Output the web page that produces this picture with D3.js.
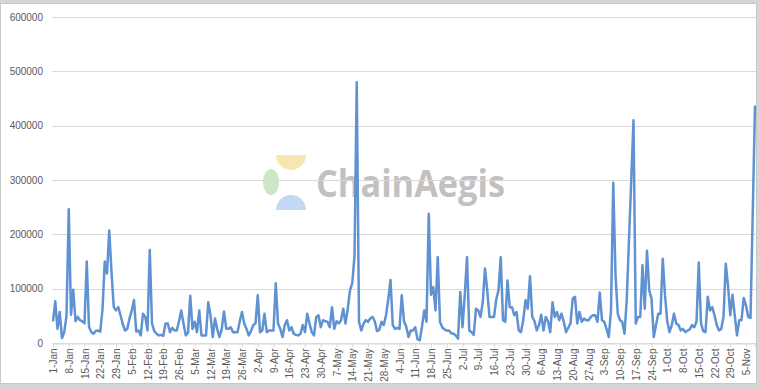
<!DOCTYPE html>
<html>
<head>
<meta charset="utf-8">
<script src="https://cdn.jsdelivr.net/npm/d3@7/dist/d3.min.js"></script>
<style>
    html, body { margin: 0; padding: 0; background: #d6d6d6; }
    svg { display: block; font-family: "Liberation Sans", Arial, sans-serif; }
</style>
</head>
<body>
<div id="chart"></div>
<script>
const width = 760;
const height = 390;

// 日ごとの値 (1-Jan から)
const startDate = new Date(2018, 0, 1);
const values = [
    40000, 77000, 26000, 57000, 9000, 20000, 50000, 246000, 52000, 98000,
    40000, 48000, 42000, 40000, 36000, 150000, 30000, 20000, 17000, 22000,
    23000, 21000, 62000, 150000, 128000, 207000, 131000, 66000, 60000, 66000,
    51000, 35000, 23000, 26000, 45000, 60000, 79000, 21000, 23000, 14000,
    54000, 48000, 23000, 171000, 36000, 22000, 17000, 14000, 15000, 13000,
    36000, 36000, 20000, 28000, 23000, 23000, 40000, 60000, 36000, 14000,
    19000, 87000, 26000, 39000, 20000, 60000, 14000, 14000, 14000, 75000,
    51000, 11000, 45000, 25000, 11000, 26000, 58000, 26000, 26000, 29000,
    20000, 20000, 20000, 40000, 57000, 36000, 26000, 14000, 22000, 33000,
    36000, 88000, 20000, 23000, 54000, 20000, 23000, 23000, 23000, 110000,
    36000, 26000, 11000, 33000, 42000, 23000, 29000, 17000, 15000, 14000,
    17000, 33000, 20000, 54000, 36000, 20000, 14000, 48000, 51000, 29000,
    42000, 40000, 39000, 29000, 66000, 26000, 40000, 36000, 42000, 63000,
    36000, 63000, 97000, 110000, 160000, 480000, 39000, 23000, 35000, 42000,
    39000, 45000, 48000, 40000, 22000, 24000, 39000, 33000, 51000, 80000,
    116000, 33000, 26000, 28000, 26000, 88000, 40000, 30000, 11000, 23000,
    23000, 29000, 7000, 5000, 30000, 60000, 39000, 238000, 89000, 103000,
    60000, 158000, 39000, 29000, 25000, 23000, 23000, 18000, 17000, 14000,
    8000, 94000, 29000, 88000, 158000, 23000, 20000, 15000, 63000, 60000,
    48000, 75000, 137000, 97000, 48000, 48000, 48000, 80000, 97000, 158000,
    42000, 39000, 115000, 66000, 66000, 51000, 57000, 23000, 20000, 42000,
    79000, 63000, 123000, 48000, 40000, 23000, 33000, 52000, 23000, 48000,
    40000, 20000, 75000, 48000, 57000, 42000, 54000, 39000, 20000, 28000,
    36000, 82000, 85000, 36000, 57000, 39000, 45000, 42000, 42000, 48000,
    51000, 51000, 39000, 93000, 42000, 39000, 26000, 11000, 60000, 295000,
    125000, 54000, 42000, 39000, 17000, 80000, 190000, 300000, 410000, 36000,
    48000, 48000, 143000, 63000, 170000, 97000, 82000, 11000, 33000, 54000,
    54000, 155000, 88000, 40000, 20000, 33000, 54000, 36000, 33000, 23000,
    26000, 20000, 23000, 25000, 33000, 29000, 39000, 148000, 36000, 22000,
    20000, 85000, 60000, 66000, 51000, 33000, 23000, 26000, 48000, 146000,
    106000, 51000, 89000, 51000, 14000, 42000, 42000, 83000, 69000, 48000,
    46000, 240000, 437000
];

// Y軸の目盛り
const yTicks = [0, 100000, 200000, 300000, 400000, 500000, 600000];

// X軸のラベル (7日ごと)
const tickLabels = [
    "1-Jan", "8-Jan", "15-Jan", "22-Jan", "29-Jan", "5-Feb", "12-Feb", "19-Feb",
    "26-Feb", "5-Mar", "12-Mar", "19-Mar", "26-Mar", "2-Apr", "9-Apr", "16-Apr",
    "23-Apr", "30-Apr", "7-May", "14-May", "21-May", "28-May", "4-Jun", "11-Jun",
    "18-Jun", "25-Jun", "2-Jul", "9-Jul", "16-Jul", "23-Jul", "30-Jul", "6-Aug",
    "13-Aug", "20-Aug", "27-Aug", "3-Sep", "10-Sep", "17-Sep", "24-Sep", "1-Oct",
    "8-Oct", "15-Oct", "22-Oct", "29-Oct", "5-Nov"
];

const data = values.map(function (v, i) {
    return { date: d3.timeDay.offset(startDate, i), value: v };
});
const tickDates = tickLabels.map(function (label, i) {
    return d3.timeDay.offset(startDate, i * 7);
});

const svg = d3
    .select("#chart")
    .append("svg")
    .attr("width", width)
    .attr("height", height);

// 背景と枠
svg.append("rect")
    .attr("x", 0.5).attr("y", 3.5)
    .attr("width", 756).attr("height", 380)
    .attr("fill", "#ffffff")
    .attr("stroke", "#c8c8c8");

const x = d3
    .scaleTime()
    .domain([startDate, data[data.length - 1].date])
    .range([53, 755]);

const y = d3
    .scaleLinear()
    .domain([0, 600000])
    .range([343, 17]);

// 透かし (ロゴ)
const mark = svg.append("g").attr("opacity", 0.7);
mark.append("path")
    .attr("d", "M276,155 A15,15 0 0 0 306,155 Z")
    .attr("fill", "#f5dc8c");
mark.append("ellipse")
    .attr("cx", 271).attr("cy", 182).attr("rx", 8).attr("ry", 13)
    .attr("fill", "#b3e0aa");
mark.append("path")
    .attr("d", "M276,210 A15,15 0 0 1 306,210 Z")
    .attr("fill", "#a9c8f0");
mark.append("text")
    .attr("x", 316).attr("y", 197)
    .attr("textLength", 189)
    .attr("lengthAdjust", "spacingAndGlyphs")
    .attr("font-size", 38)
    .attr("font-weight", "bold")
    .attr("font-family", "'Open Sans', 'Liberation Sans', sans-serif")
    .attr("fill", "#a8a8a8")
    .text("ChainAegis");

// グリッド線
svg.append("g")
    .selectAll("line")
    .data(yTicks)
    .enter()
    .append("line")
    .attr("x1", 52)
    .attr("x2", 756)
    .attr("y1", function (d) { return Math.round(y(d)) + 0.5; })
    .attr("y2", function (d) { return Math.round(y(d)) + 0.5; })
    .attr("stroke", "#d9d9d9");

// Y軸ラベル
svg.append("g")
    .selectAll("text")
    .data(yTicks)
    .enter()
    .append("text")
    .attr("x", 43)
    .attr("y", function (d) { return y(d); })
    .attr("dy", "0.35em")
    .attr("text-anchor", "end")
    .attr("font-size", 10)
    .attr("fill", "#595959")
    .text(function (d) { return d; });

// X軸
const xAxis = d3
    .axisBottom(x)
    .tickValues(tickDates)
    .tickSize(4)
    .tickFormat(function (d, i) { return tickLabels[i]; });

const gx = svg.append("g")
    .attr("transform", "translate(0," + (Math.round(y(0)) + 0.5) + ")")
    .call(xAxis);

gx.select(".domain").attr("stroke", "#d9d9d9");
gx.selectAll(".tick line").attr("stroke", "#d9d9d9");
gx.selectAll(".tick text")
    .attr("font-size", 10)
    .attr("font-family", "'Liberation Sans', Arial, sans-serif")
    .attr("fill", "#595959")
    .attr("text-anchor", "end")
    .attr("transform", "rotate(-90)")
    .attr("x", -5)
    .attr("y", 0)
    .attr("dy", "0.35em");

// 折れ線
const line = d3
    .line()
    .x(function (d) { return x(d.date); })
    .y(function (d) { return y(d.value); });

svg.append("path")
    .datum(data)
    .attr("d", line)
    .attr("fill", "none")
    .attr("stroke", "#5f92d2")
    .attr("stroke-width", 2.5)
    .attr("stroke-linejoin", "round");
</script>
</body>
</html>
